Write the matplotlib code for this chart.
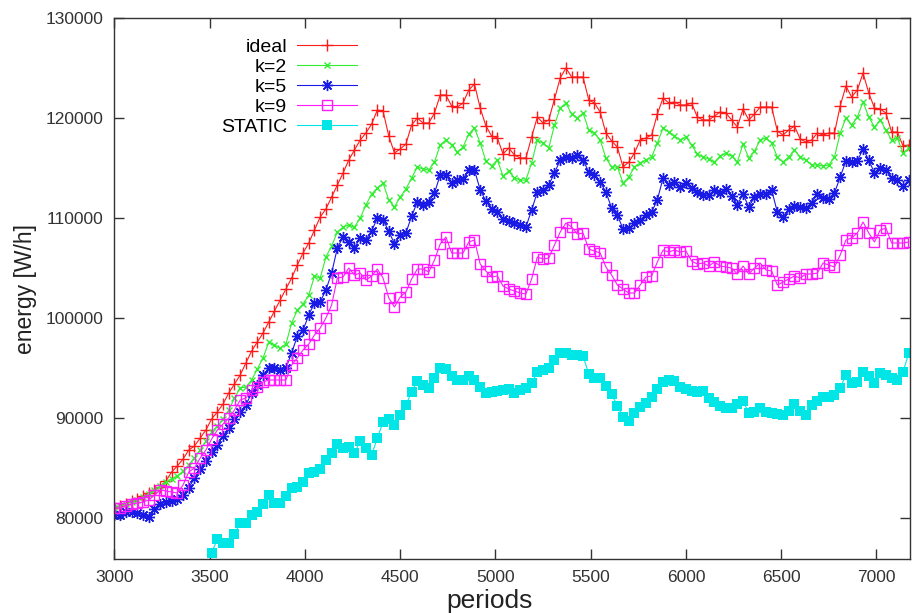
import matplotlib
matplotlib.use("Agg")
import matplotlib.pyplot as plt
import numpy as np

# periods sampled every 30 steps from 3000 to 7170
periods = np.arange(3000, 7200, 30)

ideal = [
    81000, 81200, 81400, 81700, 81900, 82200, 82500, 82800, 83100, 83700,
    84600, 85200, 85900, 86800, 87200, 88000, 88800, 89900, 90600, 91400,
    92500, 93400, 94300, 95500, 96700, 97600, 98500, 99600, 100700, 101800,
    102900, 104000, 105300, 106500, 107500, 108800, 110100, 110900, 112100, 113300,
    114500, 115800, 116800, 117800, 118500, 119400, 120800, 120700, 118200, 116500,
    116900, 117400, 119300, 120000, 119500, 119500, 120500, 122300, 122300, 121200,
    121100, 121500, 122800, 123400, 121000, 119200, 118200, 118000, 116400, 117000,
    116300, 116000, 116000, 118100, 120100, 119500, 119800, 121900, 124000, 125000,
    124100, 124100, 124100, 121800, 121500, 120600, 118500, 117700, 117100, 115100,
    115600, 116500, 117800, 118000, 118300, 120400, 122000, 121500, 121600, 121300,
    121300, 121500, 120100, 119800, 119800, 120200, 120600, 120500, 119800, 119100,
    120900, 119800, 120400, 121100, 121100, 121100, 118700, 118300, 118800, 119200,
    117900, 117600, 117800, 118500, 118300, 118500, 118500, 121200, 123200, 122100,
    122800, 124500, 122500, 121000, 120900, 120500, 118600, 118600, 117200, 117300,
]

k2 = [
    81000, 81200, 81400, 81600, 81800, 82100, 82400, 82800, 83200, 83600,
    83900, 84200, 84700, 85300, 86000, 86800, 87700, 88600, 89200, 89900,
    90800, 92000, 93000, 93100, 93800, 94900, 96000, 97600, 97300, 97000,
    97400, 99500, 100800, 101400, 102300, 104200, 104000, 106100, 107200, 108600,
    109100, 109300, 109100, 110000, 111300, 112400, 113000, 113500, 111800, 111100,
    112100, 112900, 114000, 115100, 114900, 114800, 115600, 117300, 117800, 117300,
    116600, 117100, 118400, 119000, 117500, 115700, 115200, 115800, 114200, 114700,
    114000, 113800, 113800, 115500, 117800, 117500, 117000, 119300, 121000, 121500,
    120400, 120000, 120500, 118800, 118500, 117800, 116000, 115100, 115100, 113500,
    114100, 115100, 115500, 115800, 116100, 117500, 119000, 118600, 118200, 117800,
    118100, 117300, 116400, 116100, 115900, 115600, 116200, 116500, 116200, 115600,
    117400, 116000, 116700, 117800, 118000, 117500, 116100, 115600, 116100, 116800,
    116100, 115800, 115300, 115300, 115200, 115300, 116100, 118500, 120000, 119300,
    120100, 121600, 120100, 119100, 119800, 118800, 117800, 118000, 116500, 117000,
]

k5 = [
    80300, 80300, 80600, 80600, 80500, 80300, 80100, 80900, 81400, 81600,
    81700, 81900, 82300, 83000, 84000, 84900, 85700, 86600, 87300, 88200,
    89000, 89900, 90600, 91300, 92500, 93300, 94300, 95000, 95000, 94800,
    95000, 96500, 98200, 98800, 100300, 101500, 101600, 102800, 104500, 107000,
    108100, 107600, 107000, 108000, 107800, 108700, 110000, 109800, 108700, 107400,
    108300, 108500, 110200, 111600, 111300, 111600, 112500, 114300, 114300, 113500,
    113800, 113900, 114800, 114800, 112800, 111700, 110900, 110600, 109900, 109700,
    109500, 109300, 109100, 110800, 112600, 112800, 113300, 114500, 115800, 116100,
    116000, 116300, 115800, 114600, 114300, 113600, 112600, 111000, 110300, 108900,
    109000, 109500, 109800, 110300, 110600, 111800, 114000, 113300, 113600, 113100,
    113500, 113000, 112600, 112300, 112300, 112800, 112500, 112900, 112200, 111300,
    112400, 111100, 112100, 112400, 112400, 112800, 110600, 110100, 110900, 111200,
    111100, 111000, 111500, 112400, 112000, 111900, 112500, 114100, 115700, 115600,
    115700, 116900, 115800, 114500, 115000, 114800, 114000, 113800, 113200, 113800,
]

k9 = [
    81000, 81000, 81200, 81400, 81500, 81600, 81800, 82300, 82800, 82700,
    82600, 82500, 83300, 84600, 85000, 86000, 86800, 87900, 88800, 89400,
    90000, 90800, 91800, 92000, 92800, 93100, 93600, 93800, 93800, 93800,
    93800, 95300, 96000, 96800, 97400, 98300, 99000, 100000, 101300, 104000,
    104100, 105000, 104300, 104500, 103800, 104200, 104900, 104000, 102000, 101100,
    102100, 102600, 103900, 104900, 104900, 104600, 105800, 107400, 108100, 106500,
    106500, 106500, 107600, 107800, 105400, 104700, 104100, 104200, 103200, 102900,
    102700, 102500, 102400, 103900, 106100, 105900, 106000, 107300, 108600, 109500,
    109100, 108400, 108500, 106900, 106700, 106500, 105100, 104300, 103300, 102900,
    102500, 102500, 103300, 104100, 104200, 105600, 106800, 106600, 106800, 106600,
    106700, 105700, 105400, 105500, 105200, 105600, 105200, 105100, 105000, 104400,
    105200, 104400, 105000, 105500, 104800, 104700, 103300, 103600, 103900, 104200,
    104000, 104400, 104400, 104500, 105500, 105300, 105100, 106300, 107800, 108000,
    108500, 109600, 108500, 107600, 108800, 109000, 107500, 107500, 107500, 107600,
]

# STATIC only enters the visible range at about 3510
static = [
    76500, 77900, 77500, 77500, 78400, 79500, 79500, 80300, 80600, 81400,
    82300, 81500, 81500, 82200, 83000, 83100, 83600, 84500, 84600, 84900,
    85800, 86500, 87400, 87000, 87100, 86500, 87700, 87000, 86300, 88000,
    89600, 89900, 89300, 90300, 91300, 92600, 93700, 93300, 93000, 94000,
    95000, 94900, 94200, 93800, 93800, 94200, 93800, 93100, 92500, 92600,
    92700, 92800, 92900, 92500, 92800, 93000, 93500, 94600, 94800, 95000,
    95800, 96500, 96500, 96300, 96300, 96200, 94400, 94000, 94000, 93200,
    92400, 91200, 90100, 89700, 90500, 91100, 91500, 92100, 92900, 93600,
    93800, 93700, 93100, 92900, 92700, 92600, 92700, 92000, 91600, 91200,
    91000, 91000, 91400, 91700, 90500, 90600, 91000, 90600, 90500, 90400,
    90300, 90700, 91400, 90700, 90300, 91300, 91700, 92100, 92100, 92300,
    93000, 94300, 93500, 93600, 94600, 94200, 93500, 94500, 94300, 94000,
    93800, 94600, 96500,
]

labels = ["ideal", "k=2", "k=5", "k=9", "STATIC"]

plt.rcParams["font.family"] = ["Liberation Sans", "DejaVu Sans"]

fig = plt.figure(figsize=(9.13, 6.13), dpi=100)
ax = fig.add_axes([0.1254, 0.0881, 0.871, 0.8825])

ax.plot(periods, ideal, color="#ff1a1a", lw=0.8, marker="+", ms=9, mew=1.0,
        label=labels[0])
ax.plot(periods, k2, color="#33ee33", lw=0.8, marker="x", ms=4.5, mew=1.0,
        label=labels[1])
ax.plot(periods, k5, color="#1a1ae6", lw=0.8, marker=(8, 2, 0), ms=8, mew=1.0,
        label=labels[2])
ax.plot(periods, k9, color="#ff1aff", lw=0.8, marker="s", ms=6.5, mew=1.0,
        mfc="none", label=labels[3])
ax.plot(periods[-len(static):], static, color="#00e6e6", lw=0.8, marker="s",
        ms=7, mew=0, label=labels[4])

ax.set_xlim(3000, 7175)
ax.set_ylim(75900, 130000)
ax.set_xticks(np.arange(3000, 7001, 500))
ax.set_yticks(np.arange(80000, 130001, 10000))

ax.tick_params(direction="in", length=7, width=1, top=True, right=True,
               labelsize=12.5, labelcolor="#333333", color="#333333", pad=8)
for s in ax.spines.values():
    s.set_color("#333333")
    s.set_linewidth(1)

ax.set_xlabel("periods", fontsize=19, color="#222222", labelpad=3)
ax.xaxis.set_label_coords(0.472, -0.055, transform=ax.transAxes)
ax.xaxis.label.set_va("top")
ax.set_ylabel("energy [W/h]", fontsize=16.5, color="#222222", labelpad=6)

ax.legend(loc="upper right", bbox_to_anchor=(0.31, 0.97), frameon=False,
          markerfirst=False, handlelength=3.1, labelspacing=0.12,
          borderaxespad=0, borderpad=0.2, handletextpad=0.5, fontsize=14)

fig.savefig("out.png", dpi=100)
